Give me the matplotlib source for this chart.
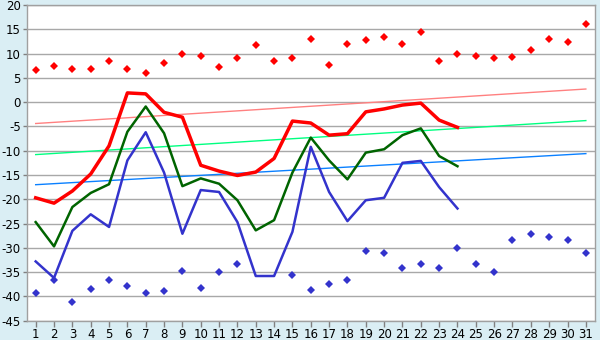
import numpy as np
import matplotlib
matplotlib.use('Agg')
import matplotlib.pyplot as plt

plt.rcParams['axes.unicode_minus'] = False

# Daily temperatures for one month

days = list(range(1, 32))

abs_max = [6.7, 7.5, 6.9, 6.9, 8.4, 6.9, 5.9, 8.0, 10.0, 9.4,
           7.2, 9.0, 11.7, 8.4, 9.0, 12.9, 7.6, 11.9, 12.7, 13.5,
           11.9, 14.4, 8.4, 10.0, 9.4, 9.0, 9.2, 10.7, 13.1, 12.3, 16.0]

abs_min = [-39.3, -36.6, -41.2, -38.4, -36.6, -37.8, -39.3, -38.8, -34.7, -38.2,
           -34.9, -33.3, np.nan, np.nan, -35.5, -38.6, -37.4, -36.6, -30.6, -31.0,
           -34.1, -33.3, -34.1, -30.0, -33.3, -34.9, -28.3, -27.1, -27.7, -28.3, -31.0]

obs_days = list(range(1, 25))

t_max = [-19.7, -20.8, -18.3, -14.8, -9.0, 1.9, 1.7, -2.1, -3.1, -13.0,
         -14.2, -15.1, -14.4, -11.6, -3.9, -4.3, -6.8, -6.5, -2.0, -1.4,
         -0.6, -0.2, -3.7, -5.2]

t_mean = [-24.7, -29.7, -21.6, -18.7, -16.9, -6.1, -0.9, -6.4, -17.3, -15.7,
          -16.8, -20.2, -26.4, -24.3, -14.5, -7.3, -12.0, -15.9, -10.4, -9.7,
          -6.8, -5.4, -11.1, -13.2]

t_min = [-32.8, -36.2, -26.5, -23.1, -25.7, -12.0, -6.2, -14.5, -27.1, -18.1,
         -18.5, -24.7, -35.8, -35.8, -26.7, -9.2, -18.5, -24.5, -20.2, -19.7,
         -12.5, -12.1, -17.5, -21.9]

# Climate norms (first and last day of the month)
norm_days = [1, 31]
norm_max = [-4.4, 2.7]
norm_mean = [-10.8, -3.8]
norm_min = [-17.0, -10.6]

fig = plt.figure(figsize=(6, 3.4), dpi=100, facecolor='#DAEEF4')
ax = fig.add_axes([0.0442, 0.0568, 0.9475, 0.9285])
ax.set_facecolor('white')

ax.set_xlim(0.5, 31.5)
ax.set_ylim(-45, 20)
ax.set_yticks(np.arange(-45, 21, 5))
ax.set_xticks(days)
ax.yaxis.grid(True, color='#A8A8A8', linewidth=1.0)
ax.set_axisbelow(True)

for side in ['top', 'right', 'bottom', 'left']:
    ax.spines[side].set_color('#A0A0A0')
    ax.spines[side].set_linewidth(1.0)

ax.tick_params(axis='both', colors='#808080', labelcolor='black',
               labelsize=8.5, width=1, direction='out')
ax.tick_params(axis='x', length=4, pad=1.5)
ax.tick_params(axis='y', length=3, pad=1)

# norms
ax.plot(norm_days, norm_max, color='#FF8080', linewidth=1.0)
ax.plot(norm_days, norm_mean, color='#00FF80', linewidth=1.0)
ax.plot(norm_days, norm_min, color='#0A80FF', linewidth=1.0)

# observed
ax.plot(obs_days, t_max, color='#FF0000', linewidth=2.5)
ax.plot(obs_days, t_mean, color='#006400', linewidth=1.8)
ax.plot(obs_days, t_min, color='#3333CC', linewidth=1.8)

# absolute extremes
ax.plot(days, abs_max, linestyle='none', marker='D', markersize=3.8,
        color='#FF0000', markeredgewidth=0)
ax.plot(days, abs_min, linestyle='none', marker='D', markersize=3.8,
        color='#3333CC', markeredgewidth=0)

plt.savefig('out.png', dpi=100, facecolor=fig.get_facecolor())
plt.close()
